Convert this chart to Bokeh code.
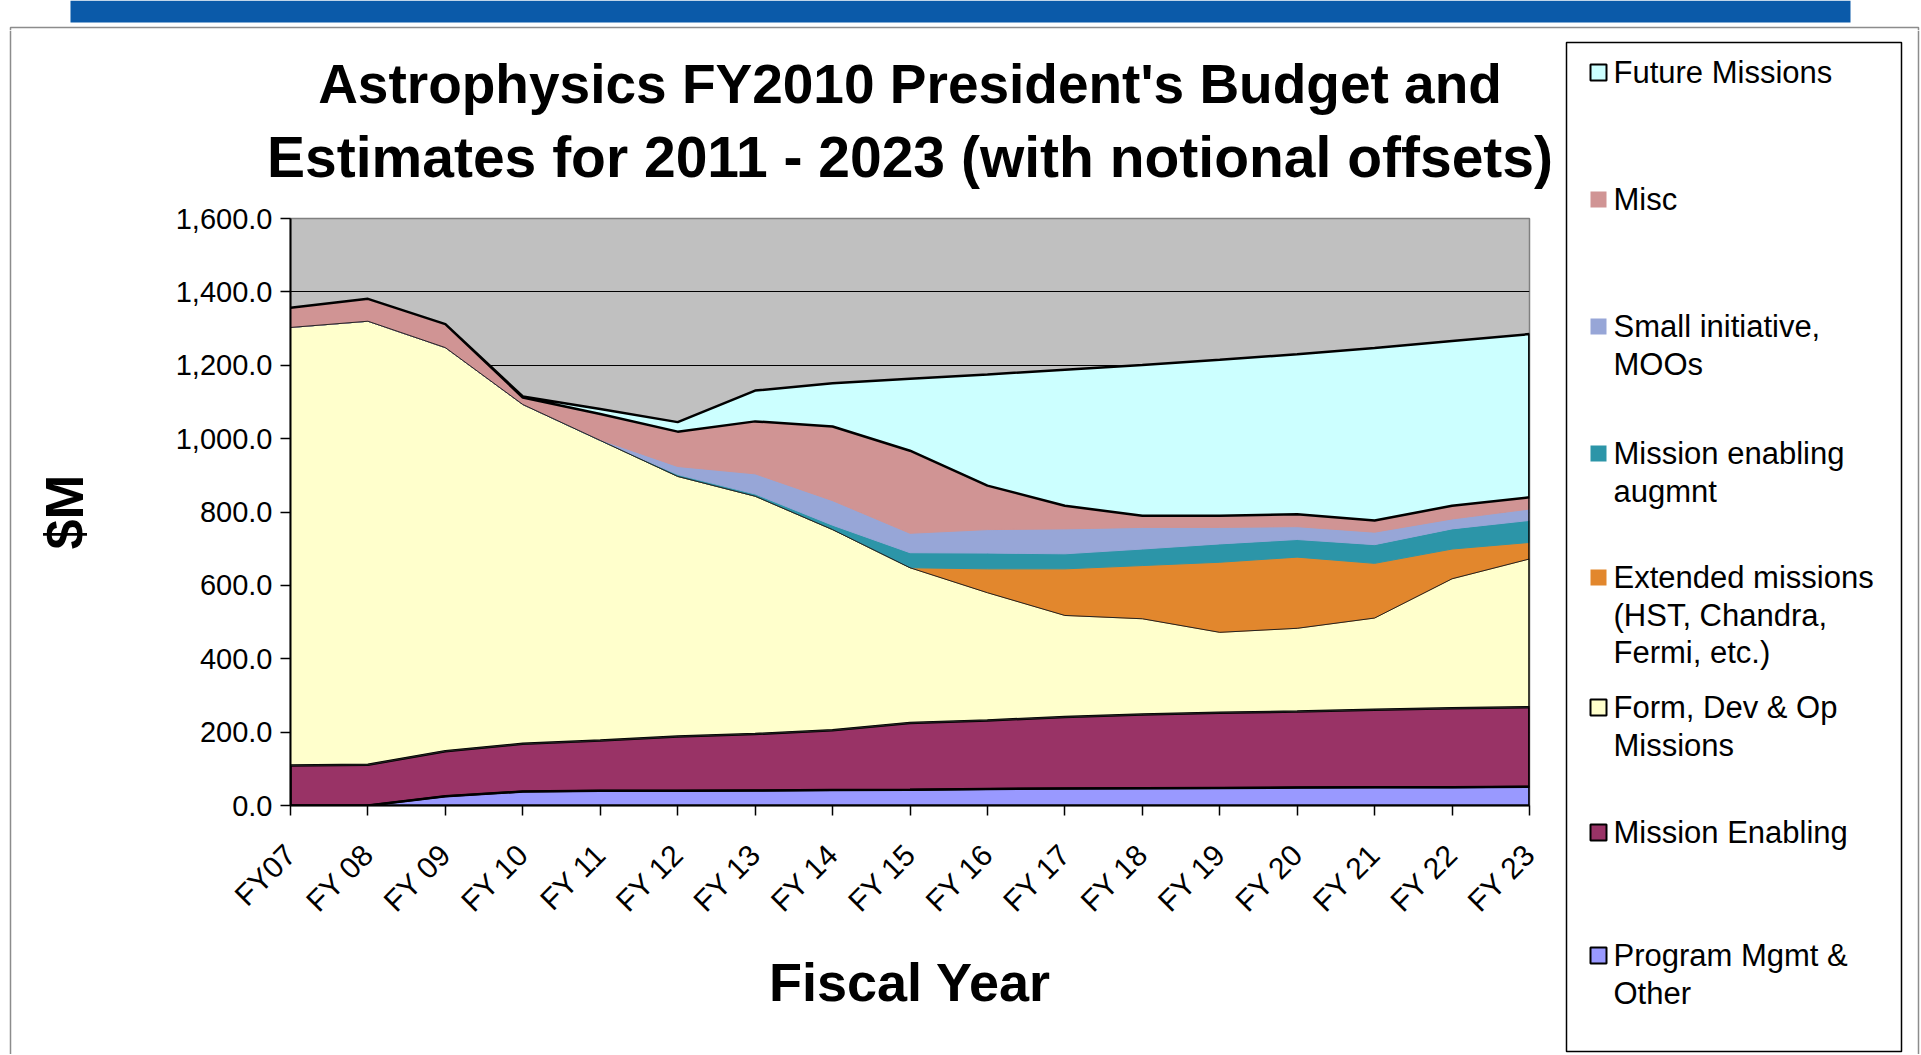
import math
import numpy as np
from bokeh.plotting import figure
from bokeh.layouts import row, column
from bokeh.models import Range1d, FixedTicker, NumeralTickFormatter, ColumnDataSource
from bokeh.core.properties import value
from bokeh.embed import file_html
from bokeh.resources import INLINE

# ---------------- data ----------------
categories = ["FY07", "FY 08", "FY 09", "FY 10", "FY 11", "FY 12", "FY 13", "FY 14", "FY 15",
              "FY 16", "FY 17", "FY 18", "FY 19", "FY 20", "FY 21", "FY 22", "FY 23"]

program_mgmt      = [0, 0, 25, 38, 40, 40, 41, 42, 43, 45, 46, 47, 48, 49, 50, 50, 51]
mission_enabling  = [109, 111, 123, 130, 137, 148, 154, 163, 182, 187, 195, 201, 205, 207, 211, 215, 217]
form_dev_op       = [1194, 1209, 1100, 925, 818, 709, 648, 547, 423, 348, 277, 261, 219, 227, 250, 353, 404]
extended_missions = [0, 0, 0, 0, 0, 0, 0, 0, 0, 65, 127, 145, 191, 194, 149, 81, 45]
mission_augment   = [0, 0, 0, 0, 0, 5, 6, 12, 41, 43, 41, 45, 50, 48, 51, 55, 60]
small_initiative  = [0, 0, 0, 0, 2, 22, 55, 67, 53, 64, 68, 59, 45, 35, 34, 27, 31]
misc              = [54, 61, 64, 19, 70, 95, 143, 202, 225, 120, 63, 32, 32, 34, 32, 36, 32]
future_missions   = [0, 0, 0, 3, 14, 26, 84, 118, 196, 303, 371, 411, 425, 436, 470, 449, 445]

y_ticks = [0, 200, 400, 600, 800, 1000, 1200, 1400, 1600]

title_lines = ["Astrophysics FY2010 President's Budget and",
               "Estimates for 2011 - 2023 (with notional offsets)"]

# stacking order: bottom -> top   (label, values, colour, has black border, border width)
series = [
    ("Program Mgmt &\nOther", program_mgmt, "#9999FF", True, 2.0),
    ("Mission Enabling", mission_enabling, "#993366", True, 2.5),
    ("Form, Dev & Op\nMissions", form_dev_op, "#FFFFCC", True, 1.0),
    ("Extended missions\n(HST, Chandra,\nFermi, etc.)", extended_missions, "#E2872D", False, 0),
    ("Mission enabling\naugmnt", mission_augment, "#2C95A8", False, 0),
    ("Small initiative,\nMOOs", small_initiative, "#97A6D7", False, 0),
    ("Misc", misc, "#D09494", False, 0),
    ("Future Missions", future_missions, "#CCFFFF", True, 2.5),
]

FONT = "Liberation Sans"
TOTAL_W, HEADER_H, BODY_H = 1920, 30, 1024
STRIP_W, MAIN_W = 12, 1540
LEG_W = TOTAL_W - STRIP_W - MAIN_W
TITLE_H = 164                      # reference y 30 .. 194
FRAME_W, FRAME_H = 1239, 587       # reference x 290..1529, y 218..805


def no_align(f):
    if "frame_align" in f.properties():
        f.frame_align = False
    return f


def blank(width, height, xr, yr):
    f = figure(width=width, height=height, x_range=Range1d(*xr), y_range=Range1d(*yr),
               x_axis_type=None, y_axis_type=None, output_backend="svg", toolbar_location=None,
               min_border=0, title=None)
    f.outline_line_color = None
    f.grid.visible = False
    f.background_fill_color = "white"
    f.border_fill_color = "white"
    return no_align(f)


# ---------------- header (blue bar + slide frame line) ----------------
header = blank(TOTAL_W, HEADER_H, (0, TOTAL_W), (0, HEADER_H))
header.quad(left=[70], right=[1850], bottom=[HEADER_H - 22], top=[HEADER_H],
            fill_color="#0B5AA9", line_color=None)
header.line([10, 10, 1918, 1918], [0, 3, 3, 0], line_color="#8C8C8C", line_width=1.5)

# left strip with the slide frame line
strip = blank(STRIP_W, BODY_H, (0, STRIP_W), (0, BODY_H))
strip.line([10, 10], [0, BODY_H], line_color="#8C8C8C", line_width=1.5)

# ---------------- chart title ----------------
title_fig = blank(MAIN_W, TITLE_H, (0, MAIN_W), (0, TITLE_H))
T_BOTTOM = HEADER_H + TITLE_H      # reference y of the title panel bottom
title_fig.text(x=[909.5 - STRIP_W, 909.5 - STRIP_W], y=[T_BOTTOM - 83, T_BOTTOM - 156],
               text=title_lines, text_font=value(FONT), text_font_style="bold",
               text_font_size=["55px", "57px"], text_color="black",
               text_align="center", text_baseline="middle")

# ---------------- main chart ----------------
p = figure(width=MAIN_W, height=BODY_H - TITLE_H, frame_width=FRAME_W, frame_height=FRAME_H,
           min_border_left=290 - STRIP_W, min_border_right=MAIN_W - (290 - STRIP_W) - FRAME_W,
           min_border_top=218 - T_BOTTOM, min_border_bottom=BODY_H - TITLE_H - (218 - T_BOTTOM) - FRAME_H,
           x_range=Range1d(0, len(categories) - 1), y_range=Range1d(y_ticks[0], y_ticks[-1]),
           output_backend="svg", toolbar_location=None, title=None)
no_align(p)

p.background_fill_color = "#C0C0C0"
p.border_fill_color = "white"
p.outline_line_color = "#808080"
p.outline_line_width = 1.5

x = list(range(len(categories)))
cum = np.zeros(len(categories))
bounds = []
for name, vals, color, border, lw in series:
    bottom = cum.copy()
    top = cum + np.array(vals, dtype=float)
    bounds.append((bottom, top))
    cum = top

for (name, vals, color, border, lw), (bottom, top) in zip(series, bounds):
    p.patch(x + x[::-1], list(top) + list(bottom[::-1]), fill_color=color, line_color=color, line_width=1)

for (name, vals, color, border, lw), (bottom, top) in zip(series, bounds):
    if border:
        p.patch(x + x[::-1], list(top) + list(bottom[::-1]), fill_color=None,
                line_color="black" if lw > 1 else "#222222", line_width=lw)

p.line([x[-1], x[-1]], [0, float(cum[-1])], line_color="black", line_width=2.5)

p.xaxis.ticker = FixedTicker(ticks=x)
p.xaxis.major_label_overrides = {i: c for i, c in enumerate(categories)}
p.xaxis.major_label_orientation = math.pi / 4
p.yaxis.ticker = FixedTicker(ticks=y_ticks)
p.yaxis.formatter = NumeralTickFormatter(format="0,0.0")
p.xgrid.visible = False
p.ygrid.ticker = FixedTicker(ticks=y_ticks)
p.ygrid.grid_line_color = "black"
p.ygrid.grid_line_width = 1

for ax in (p.xaxis[0], p.yaxis[0]):
    ax.axis_line_color = "black"
    ax.axis_line_width = 2
    ax.major_tick_line_color = "black"
    ax.major_tick_line_width = 1.5
    ax.major_tick_out = 10
    ax.major_tick_in = 0
    ax.minor_tick_line_color = None
    ax.major_label_text_font = FONT
    ax.major_label_text_font_size = "30px"
    ax.major_label_text_color = "black"
    ax.axis_label_text_font = FONT
    ax.axis_label_text_font_size = "54px"
    ax.axis_label_text_font_style = "bold"
    ax.axis_label_text_color = "black"

p.yaxis.major_label_text_font_size = "29px"
p.yaxis.axis_label = "$M"
p.yaxis.major_label_standoff = 8
p.yaxis.axis_label_standoff = 79
p.xaxis.axis_label = "Fiscal Year"
p.xaxis.major_label_standoff = 34
p.xaxis.axis_label_standoff = 20

# ---------------- legend panel ----------------
LX0 = STRIP_W + MAIN_W           # reference x where the legend panel starts
LY0 = HEADER_H + BODY_H          # reference y of the panel bottom
leg = blank(LEG_W, BODY_H, (0, LEG_W), (0, BODY_H))


def lx(px):
    return px - LX0


def ly(py):
    return LY0 - py


leg.quad(left=[lx(1566)], right=[lx(1901)], top=[ly(42)], bottom=[ly(1051)],
         fill_color="white", line_color="black", line_width=1.5)
leg.line([lx(1918), lx(1918)], [0, BODY_H], line_color="#8C8C8C", line_width=1.5)

legend_first_line_y = [72, 199, 326, 453, 577, 707, 832, 955]
line_gap = 37.5
tx, ty, tt = [], [], []
for (name, vals, color, border, lw), yy in zip(series[::-1], legend_first_line_y):
    leg.quad(left=[lx(1590)], right=[lx(1606)], top=[ly(yy - 8)], bottom=[ly(yy + 8)],
             fill_color=color, line_color="black" if border else None, line_width=2)
    for j, txt in enumerate(name.split("\n")):
        tx.append(lx(1613))
        ty.append(ly(yy + j * line_gap))
        tt.append(txt)
leg.text(x="x", y="y", text="t", source=ColumnDataSource(dict(x=tx, y=ty, t=tt)),
         text_font=value(FONT), text_font_size=value("31px"), text_color="black",
         text_align="left", text_baseline="middle")

layout = column(header, row(strip, column(title_fig, p), leg))
open("out.html", "w").write(file_html(layout, INLINE))
